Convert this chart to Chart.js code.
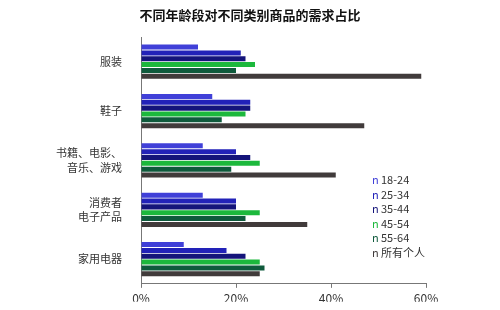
<!DOCTYPE html>
<html><head><meta charset="utf-8">
<script src="https://cdn.jsdelivr.net/npm/chart.js@4/dist/chart.umd.min.js"></script>
<style>html,body{margin:0;padding:0;background:#fff}#wrap{width:500px;height:310px;position:relative}</style>
</head><body><div id="wrap"><canvas id="c" width="500" height="310"></canvas></div>
<script>
const titleText = '不同年龄段对不同类别商品的需求占比';
const categories = ['服装', '鞋子', ['书籍、电影、', '音乐、游戏'], ['消费者', '电子产品'], '家用电器'];
const seriesLabels = ['18-24', '25-34', '35-44', '45-54', '55-64', '所有个人'];
const s1824 = [12, 15, 13, 13, 9];
const s2534 = [21, 23, 20, 20, 18];
const s3544 = [22, 23, 23, 20, 22];
const s4554 = [24, 22, 25, 25, 25];
const s5564 = [20, 17, 19, 22, 26];
const sAll  = [59, 47, 41, 35, 25];
const xTicks = [0, 20, 40, 60];
const colors = ['#4040d8', '#2222b8', '#14147a', '#1cb83c', '#0f5a3c', '#413b3b'];
const values = [s1824, s2534, s3544, s4554, s5564, sAll];
const FONT = '"Noto Sans CJK SC", "Noto Sans", sans-serif';

const overlay = {
  id: 'overlay',
  afterDraw(chart) {
    const ctx = chart.ctx;
    ctx.save();
    ctx.fillStyle = '#111';
    ctx.font = 'bold 13px ' + FONT;
    ctx.textAlign = 'center';
    ctx.textBaseline = 'middle';
    ctx.fillText(titleText, 250, 15);
    ctx.font = '11px ' + FONT;
    ctx.textAlign = 'left';
    chart.data.datasets.forEach((ds, i) => {
      const y = 180 + i * 14.5;
      ctx.fillStyle = ds.backgroundColor;
      ctx.fillText('n', 372, y);
      ctx.fillStyle = '#333';
      ctx.fillText(ds.label, 381, y);
    });
    ctx.restore();
  }
};

new Chart(document.getElementById('c'), {
  type: 'bar',
  data: {
    labels: categories,
    datasets: seriesLabels.map((l, i) => ({
      label: l, data: values[i], backgroundColor: colors[i],
      borderColor: colors[i], borderWidth: 0,
      barPercentage: 0.86, categoryPercentage: 0.71
    }))
  },
  options: {
    indexAxis: 'y', responsive: false, animation: false,
    layout: { padding: { top: 37, right: 74, left: 0, bottom: 0 } },
    plugins: { legend: { display: false }, title: { display: false }, tooltip: { enabled: false } },
    scales: {
      x: {
        min: 0, max: 60,
        afterBuildTicks(scale) { scale.ticks = xTicks.map(v => ({ value: v })); },
        afterFit(scale) { scale.height = 18; },
        grid: { drawOnChartArea: false, drawTicks: true, tickLength: 4, color: '#777' },
        border: { display: true, color: '#777', width: 1 },
        ticks: { padding: 3, color: '#333', font: { family: FONT, size: 12 }, callback: v => v + '%' }
      },
      y: {
        afterFit(scale) { scale.width = 141; },
        grid: { display: false, drawTicks: false },
        border: { display: true, color: '#777', width: 1 },
        ticks: { padding: 19, color: '#333', font: { family: FONT, size: 11, lineHeight: 1.3 } }
      }
    }
  },
  plugins: [overlay]
});
</script></body></html>
